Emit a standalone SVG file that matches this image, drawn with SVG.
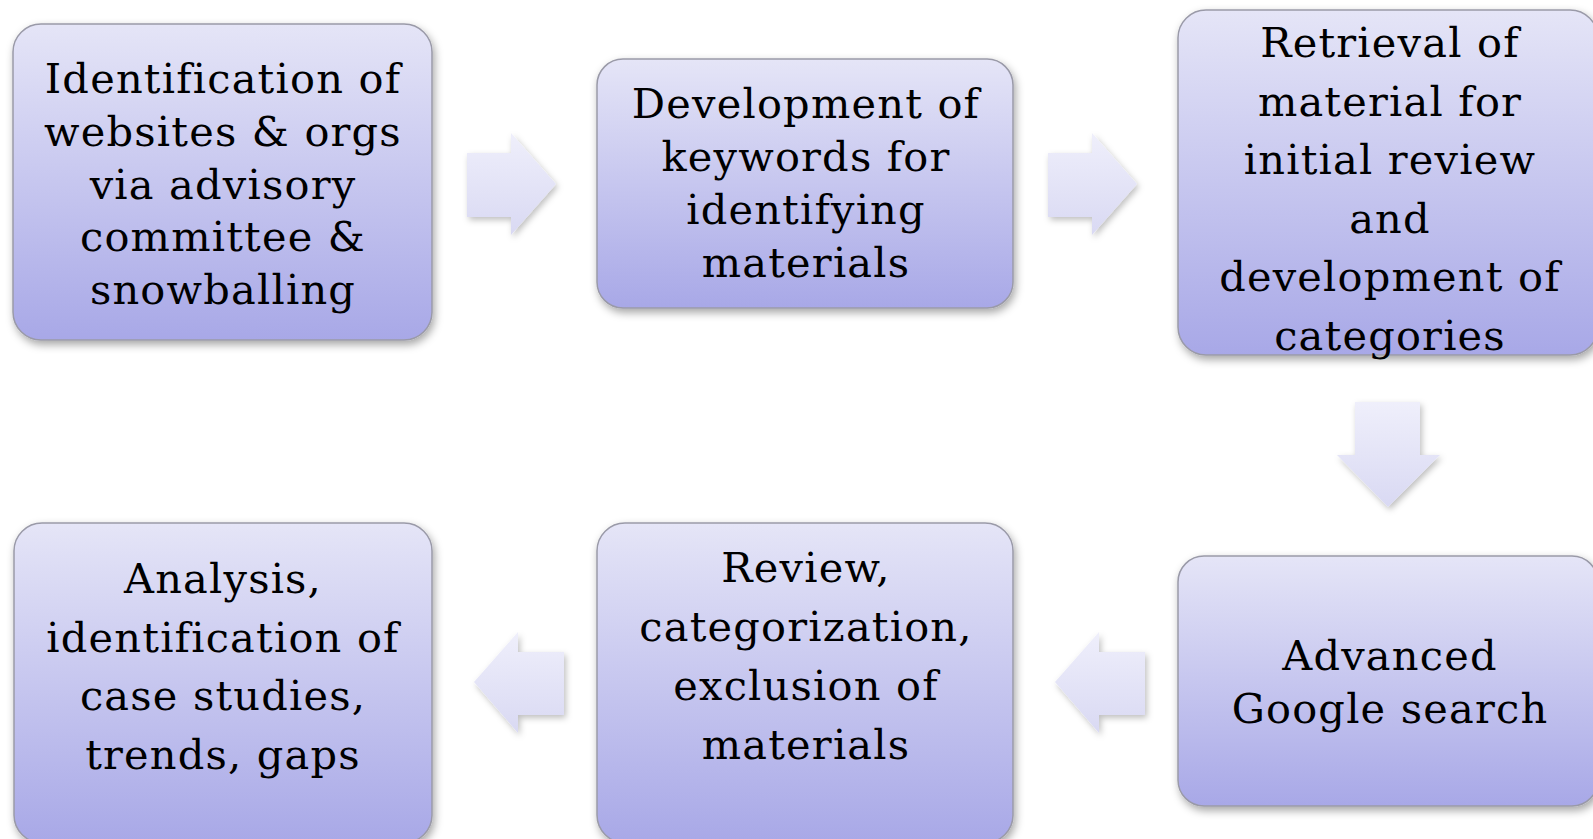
<svg xmlns="http://www.w3.org/2000/svg" width="1593" height="839" viewBox="0 0 1593 839">
<defs>
<linearGradient id="boxGrad" x1="0" y1="0" x2="0" y2="1">
<stop offset="0" stop-color="#e5e5f7"/>
<stop offset="1" stop-color="#a8a8e7"/>
</linearGradient>
<linearGradient id="arrGradH" x1="0" y1="0" x2="0" y2="1">
<stop offset="0" stop-color="#efeffb"/>
<stop offset="1" stop-color="#d9d9f3"/>
</linearGradient>
<filter id="shadow" x="-10%" y="-10%" width="125%" height="130%">
<feDropShadow dx="2" dy="4" stdDeviation="4" flood-color="#000" flood-opacity="0.35"/>
</filter>
<filter id="ashadow" x="-20%" y="-20%" width="150%" height="150%">
<feDropShadow dx="2" dy="3" stdDeviation="3" flood-color="#000" flood-opacity="0.25"/>
</filter>
</defs>
<style>
.box{fill:url(#boxGrad);stroke:#9a9aa8;stroke-width:1.5;filter:url(#shadow)}
.arrow{fill:url(#arrGradH);filter:url(#ashadow)}
.lbl{font-family:"DejaVu Serif","Liberation Serif",serif;font-size:41.5px;letter-spacing:1.2px;fill:#000;text-anchor:middle}
</style>
<rect width="1593" height="839" fill="#ffffff"/>
<g id="connectors">
<polygon class="arrow" points="467,153 511,153 511,133 556,184 511,235 511,217 467,217"/>
<polygon class="arrow" points="1048,153 1092,153 1092,133 1137,184 1092,235 1092,217 1048,217"/>
<polygon class="arrow" points="1355,402 1420,402 1420,455 1440,455 1388,507 1337,455 1355,455"/>
<polygon class="arrow" points="1145,652 1099,652 1099,632 1055,682 1099,733 1099,715 1145,715"/>
<polygon class="arrow" points="564,652 518,652 518,632 474,682 518,733 518,715 564,715"/>
</g>
<g id="node1">
<rect class="box" x="13" y="24" width="419" height="316" rx="28"/>
<text class="lbl"><tspan x="223" y="93">Identification of</tspan><tspan x="223" y="146">websites &amp; orgs</tspan><tspan x="223" y="199">via advisory</tspan><tspan x="223" y="251">committee &amp;</tspan><tspan x="223" y="304">snowballing</tspan></text>
</g>
<g id="node2">
<rect class="box" x="597" y="59" width="416" height="249" rx="26"/>
<text class="lbl"><tspan x="806" y="118">Development of</tspan><tspan x="806" y="171">keywords for</tspan><tspan x="806" y="224">identifying</tspan><tspan x="806" y="277">materials</tspan></text>
</g>
<g id="node3">
<rect class="box" x="1178" y="10" width="420" height="345" rx="28"/>
<text class="lbl"><tspan x="1390" y="57">Retrieval of</tspan><tspan x="1390" y="115.5">material for</tspan><tspan x="1390" y="174">initial review</tspan><tspan x="1390" y="232.5">and</tspan><tspan x="1390" y="291">development of</tspan><tspan x="1390" y="349.5">categories</tspan></text>
</g>
<g id="node4">
<rect class="box" x="1178" y="556" width="420" height="250" rx="26"/>
<text class="lbl"><tspan x="1390" y="670">Advanced</tspan><tspan x="1390" y="723">Google search</tspan></text>
</g>
<g id="node5">
<rect class="box" x="597" y="523" width="416" height="320" rx="28"/>
<text class="lbl"><tspan x="806" y="582">Review,</tspan><tspan x="806" y="641">categorization,</tspan><tspan x="806" y="700">exclusion of</tspan><tspan x="806" y="759">materials</tspan></text>
</g>
<g id="node6">
<rect class="box" x="14" y="523" width="418" height="320" rx="28"/>
<text class="lbl"><tspan x="223" y="593">Analysis,</tspan><tspan x="223" y="652">identification of</tspan><tspan x="223" y="710">case studies,</tspan><tspan x="223" y="769">trends, gaps</tspan></text>
</g>
</svg>
